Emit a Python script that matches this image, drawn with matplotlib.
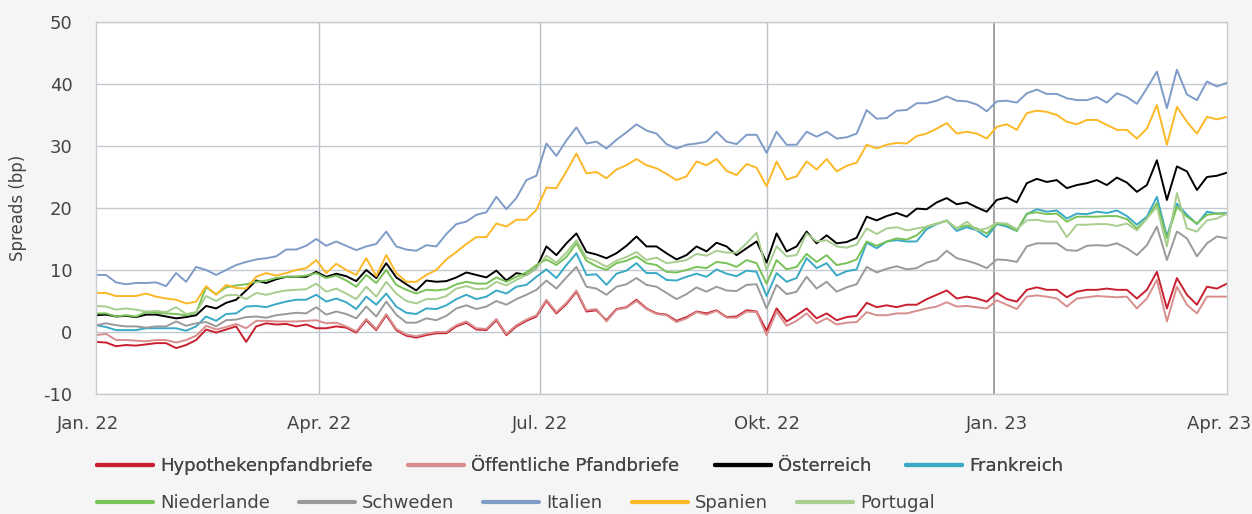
import matplotlib.pyplot as plt
from matplotlib.lines import Line2D
import matplotlib.transforms as mtransforms
import numpy as np

plt.rcParams['font.family'] = ['DejaVu Sans']
plt.rcParams['axes.unicode_minus'] = False

# x axis: sample index (about two trading days per step), quarter labels
tick_labels = ["Jan. 22", "Apr. 22", "Jul. 22", "Okt. 22", "Jan. 23", "Apr. 23"]
tick_pos = [0, 22.3, 44.4, 67.0, 89.7, 113]

hypotheken = [
    -1.6, -1.7, -2.3, -2.1, -2.2, -2.0, -1.8, -1.8, -2.6, -2.1, -1.3, 0.4, -0.1, 0.4, 0.9, -1.6, 0.9, 1.4, 1.2, 1.3, 0.9, 1.2, 0.6, 0.6, 0.9, 0.7,
    -0.1, 1.9, 0.3, 2.7, 0.3, -0.6, -0.9, -0.5, -0.2, -0.2, 0.9, 1.5, 0.4, 0.3, 1.9, -0.5, 0.9, 1.8, 2.5, 5.0, 3.0, 4.5, 6.5, 3.3, 3.5,
    1.9, 3.7, 4.0, 5.2, 3.8, 3.0, 2.8, 1.8, 2.4, 3.3, 3.0, 3.5, 2.4, 2.5, 3.5, 3.3, 0.2, 3.8, 1.7, 2.7, 3.8, 2.2, 3.0, 1.9, 2.4,
    2.6, 4.7, 4.0, 4.3, 4.0, 4.4, 4.4, 5.3, 6.0, 6.7, 5.4, 5.7, 5.4, 4.9, 6.3, 5.3, 4.9, 6.8, 7.2,
    6.8, 6.8, 5.6, 6.5, 6.8, 6.8, 7.0, 6.8, 6.8, 5.4, 6.8, 9.7, 3.8, 8.7, 6.0, 4.4, 7.3, 7.0, 7.8,
]
oeffentliche = [
    -0.5, -0.3, -1.3, -1.3, -1.4, -1.5, -1.3, -1.3, -1.7, -1.3, -0.6, 1.0, 0.4, 0.8, 1.3, 0.6, 1.8, 1.8, 1.7, 1.7, 1.7, 1.8, 1.9, 1.4, 1.5, 0.9,
    0.1, 2.1, 0.5, 2.9, 0.5, -0.4, -0.7, -0.3, 0.0, 0.0, 1.1, 1.7, 0.6, 0.5, 2.1, -0.3, 1.1, 2.0, 2.7, 5.2, 3.2, 4.7, 6.7, 3.5, 3.7,
    1.7, 3.6, 3.9, 5.0, 3.7, 2.9, 2.7, 1.6, 2.2, 3.2, 2.8, 3.4, 2.3, 2.3, 3.3, 3.2, -0.5, 3.3, 1.0, 1.8, 3.0, 1.4, 2.2, 1.2, 1.5,
    1.6, 3.2, 2.7, 2.7, 3.0, 3.0, 3.4, 3.8, 4.1, 4.8, 4.1, 4.2, 4.0, 3.8, 5.1, 4.4, 3.7, 5.7, 5.9,
    5.7, 5.4, 4.1, 5.4, 5.6, 5.8, 5.7, 5.6, 5.7, 3.8, 5.4, 8.4, 1.7, 7.3, 4.4, 3.0, 5.7, 5.7, 5.7,
]
oesterreich = [
    2.7, 2.8, 2.5, 2.6, 2.4, 2.8, 2.8, 2.5, 2.2, 2.4, 2.7, 4.2, 3.8, 4.7, 5.2, 6.7, 8.3, 7.9, 8.5, 8.9, 8.9, 8.9, 9.7, 8.9, 9.4, 9.0,
    8.2, 10.0, 8.7, 11.1, 8.8, 7.7, 6.7, 8.3, 8.1, 8.2, 8.8, 9.6, 9.2, 8.8, 9.9, 8.3, 9.5, 9.2, 10.3, 13.8, 12.4, 14.3, 15.9, 12.9, 12.5,
    11.9, 12.7, 13.9, 15.4, 13.8, 13.8, 12.7, 11.7, 12.4, 13.8, 13.0, 14.4, 13.8, 12.4, 13.5, 14.6, 11.2, 15.9, 13.0, 13.8, 16.2, 14.3, 15.6, 14.3, 14.5,
    15.2, 18.6, 18.0, 18.7, 19.2, 18.6, 19.9, 19.8, 20.9, 21.6, 20.6, 20.9, 20.1, 19.4, 21.3, 21.7, 20.9, 24.0, 24.7,
    24.2, 24.5, 23.2, 23.7, 24.0, 24.5, 23.7, 24.9, 24.1, 22.6, 23.7, 27.7, 21.3, 26.7, 25.9, 22.9, 25.0, 25.2, 25.7,
]
frankreich = [
    1.1, 0.8, 0.3, 0.3, 0.3, 0.6, 0.6, 0.6, 0.6, 0.2, 0.9, 2.5, 1.8, 2.9, 3.0, 4.1, 4.2, 4.0, 4.5, 4.9, 5.2, 5.2, 6.0, 4.9, 5.4, 4.8,
    3.7, 5.7, 4.4, 6.2, 4.1, 3.1, 2.9, 3.8, 3.7, 4.3, 5.3, 6.0, 5.3, 5.7, 6.7, 6.2, 7.3, 7.6, 8.9, 10.1, 8.7, 10.8, 12.7, 9.2, 9.3,
    7.6, 9.4, 9.9, 11.1, 9.5, 9.5, 8.4, 8.3, 8.9, 9.4, 8.9, 10.1, 9.4, 9.0, 9.9, 9.7, 5.8, 9.5, 8.1, 8.7, 11.9, 10.3, 11.1, 9.1, 9.8,
    10.1, 14.4, 13.5, 14.6, 14.8, 14.6, 14.6, 16.6, 17.4, 18.0, 16.3, 16.9, 16.4, 15.3, 17.4, 17.0, 16.3, 19.0, 19.8,
    19.4, 19.6, 18.3, 19.1, 19.0, 19.4, 19.2, 19.6, 18.7, 17.3, 18.6, 21.8, 15.4, 20.7, 18.9, 17.4, 19.4, 19.1, 19.2,
]
niederlande = [
    3.0, 3.0, 2.5, 2.7, 2.5, 3.2, 3.1, 3.0, 2.9, 2.7, 3.1, 7.2, 6.1, 7.2, 7.5, 7.7, 8.1, 8.3, 8.7, 8.9, 8.9, 9.1, 9.5, 8.7, 9.1, 8.3,
    7.3, 9.2, 7.9, 10.0, 7.6, 6.8, 6.2, 6.8, 6.7, 6.9, 7.7, 8.1, 7.8, 7.8, 8.8, 8.1, 8.9, 9.6, 10.8, 11.7, 10.8, 12.1, 14.3, 11.5, 10.6,
    10.0, 11.1, 11.5, 12.2, 11.1, 10.8, 9.7, 9.6, 10.0, 10.5, 10.3, 11.3, 11.1, 10.5, 11.6, 11.1, 7.8, 11.6, 10.1, 10.5, 12.6, 11.3, 12.4, 10.8, 11.1,
    11.7, 14.6, 13.9, 14.6, 15.1, 14.9, 15.6, 17.0, 17.5, 17.9, 16.7, 17.2, 16.7, 15.9, 17.5, 17.3, 16.3, 19.1, 19.3,
    19.0, 19.1, 17.8, 18.6, 18.6, 18.6, 18.7, 18.7, 18.2, 16.7, 18.3, 20.8, 15.1, 20.2, 18.6, 17.5, 18.9, 19.1, 19.0,
]
schweden = [
    1.1, 1.4, 1.1, 0.9, 0.9, 0.7, 0.9, 0.9, 1.7, 1.0, 1.4, 1.6, 0.9, 1.9, 2.0, 2.4, 2.5, 2.3, 2.7, 2.9, 3.1, 3.0, 4.0, 2.8, 3.3, 2.9,
    2.2, 4.1, 2.5, 4.9, 2.8, 1.5, 1.5, 2.2, 1.9, 2.6, 3.8, 4.3, 3.7, 4.1, 5.0, 4.4, 5.3, 6.0, 6.8, 8.3, 7.0, 8.8, 10.5, 7.3, 7.0,
    6.0, 7.3, 7.7, 8.7, 7.6, 7.3, 6.3, 5.3, 6.1, 7.2, 6.5, 7.3, 6.7, 6.6, 7.6, 7.7, 3.8, 7.6, 6.1, 6.5, 8.9, 7.0, 8.1, 6.5, 7.2,
    7.7, 10.5, 9.6, 10.2, 10.6, 10.1, 10.3, 11.2, 11.6, 13.1, 11.9, 11.5, 11.0, 10.3, 11.7, 11.6, 11.3, 13.8, 14.3,
    14.3, 14.3, 13.2, 13.1, 13.9, 14.0, 13.9, 14.3, 13.5, 12.4, 14.0, 17.0, 11.6, 16.2, 15.1, 12.2, 14.3, 15.4, 15.1,
]
italien = [
    9.2, 9.2, 8.0, 7.7, 7.9, 7.9, 8.0, 7.4, 9.5, 8.1, 10.5, 10.0, 9.2, 10.0, 10.8, 11.3, 11.7, 11.9, 12.2, 13.3, 13.3, 13.9, 15.0, 13.9, 14.6, 13.9,
    13.2, 13.8, 14.2, 16.2, 13.8, 13.3, 13.1, 14.0, 13.8, 15.8, 17.4, 17.8, 18.9, 19.3, 21.8, 19.8, 21.6, 24.5, 25.2, 30.4, 28.4, 30.9, 33.0, 30.4, 30.7,
    29.6, 31.0, 32.2, 33.5, 32.5, 32.0, 30.3, 29.6, 30.2, 30.4, 30.7, 32.3, 30.7, 30.3, 31.8, 31.8, 28.9, 32.3, 30.2, 30.2, 32.3, 31.5, 32.3, 31.2, 31.4,
    32.0, 35.8, 34.4, 34.5, 35.7, 35.8, 36.9, 36.9, 37.3, 38.0, 37.3, 37.2, 36.7, 35.6, 37.2, 37.3, 37.0, 38.5, 39.1,
    38.4, 38.4, 37.7, 37.4, 37.4, 37.9, 37.0, 38.5, 37.9, 36.8, 39.3, 42.0, 36.1, 42.3, 38.3, 37.4, 40.4, 39.6, 40.2,
]
spanien = [
    6.3, 6.3, 5.8, 5.8, 5.8, 6.2, 5.7, 5.4, 5.2, 4.6, 4.9, 7.4, 6.0, 7.6, 7.1, 7.0, 8.9, 9.5, 9.1, 9.5, 10.0, 10.3, 11.6, 9.5, 11.0, 10.0,
    9.2, 11.9, 9.0, 12.4, 9.5, 8.1, 8.1, 9.2, 10.0, 11.7, 12.9, 14.2, 15.3, 15.3, 17.5, 17.0, 18.1, 18.1, 19.7, 23.3, 23.2, 25.9, 28.8, 25.6, 25.8,
    24.8, 26.2, 26.9, 27.9, 26.9, 26.4, 25.5, 24.5, 25.1, 27.5, 26.9, 27.9, 26.0, 25.3, 27.1, 26.5, 23.5, 27.5, 24.6, 25.1, 27.5, 26.2, 27.9, 25.9, 26.8,
    27.3, 30.2, 29.6, 30.2, 30.5, 30.4, 31.6, 32.0, 32.8, 33.7, 32.0, 32.3, 32.0, 31.2, 33.1, 33.5, 32.6, 35.3, 35.7,
    35.5, 35.0, 33.9, 33.5, 34.2, 34.2, 33.4, 32.6, 32.6, 31.2, 32.8, 36.6, 30.2, 36.3, 33.9, 32.0, 34.7, 34.3, 34.7,
]
portugal = [
    4.2, 4.1, 3.6, 3.8, 3.6, 3.3, 3.4, 3.2, 4.0, 2.9, 3.2, 5.8, 5.0, 5.9, 6.0, 5.3, 6.3, 6.0, 6.4, 6.7, 6.8, 6.9, 7.8, 6.5, 7.0, 6.2,
    5.3, 7.3, 5.7, 8.1, 6.2, 5.0, 4.6, 5.3, 5.3, 5.8, 7.0, 7.4, 6.9, 7.0, 8.1, 7.5, 8.4, 9.2, 10.3, 12.3, 11.2, 12.8, 14.8, 12.0, 11.4,
    10.5, 11.5, 12.1, 12.9, 11.6, 12.0, 11.1, 11.3, 11.6, 12.6, 12.3, 13.1, 12.8, 12.8, 14.3, 16.0, 10.0, 13.8, 12.2, 12.4, 15.9, 14.6, 14.8, 13.8, 13.6,
    14.1, 16.7, 15.8, 16.7, 16.9, 16.4, 16.7, 17.0, 17.4, 18.0, 16.7, 17.8, 16.4, 16.7, 17.6, 17.5, 16.6, 18.0, 18.1,
    17.8, 17.8, 15.3, 17.3, 17.3, 17.4, 17.4, 17.1, 17.5, 16.4, 18.3, 20.2, 13.8, 22.4, 16.7, 16.2, 18.0, 18.3, 19.1,
]

series = [
    ("Hypothekenpfandbriefe", hypotheken, "#c8202f"),
    ("Öffentliche Pfandbriefe", oeffentliche, "#d98e8e"),
    ("Österreich", oesterreich, "#000000"),
    ("Frankreich", frankreich, "#3aa9c6"),
    ("Niederlande", niederlande, "#78c257"),
    ("Schweden", schweden, "#9a9a9a"),
    ("Italien", italien, "#7f9cc8"),
    ("Spanien", spanien, "#fcb827"),
    ("Portugal", portugal, "#a8cd8e"),
]

text_col = "#444444"
fig = plt.figure(figsize=(12.52, 5.14), dpi=100, facecolor="#f4f5f4")
ax = fig.add_axes([0.0767, 0.2335, 0.9033, 0.7237])
ax.set_facecolor("white")

x = np.arange(len(italien))
for name, vals, col in series:
    ax.plot(x, vals, color=col, lw=1.4, label=name, solid_joinstyle="round")

ax.set_xlim(0, 113)
ax.set_ylim(-10, 50)
ax.set_yticks(np.arange(-10, 51, 10))
ax.set_xticks(tick_pos)
ax.set_xticklabels(tick_labels)
ax.tick_params(axis="both", length=0, labelsize=13, colors=text_col)
ax.tick_params(axis="x", pad=15)
ax.tick_params(axis="y", pad=17)
# edge labels sit a little to the left in the original
xl = ax.get_xticklabels()
for lab, dx in [(xl[0], -8), (xl[-1], -8), (xl[4], 3)]:
    lab.set_transform(lab.get_transform() + mtransforms.ScaledTranslation(dx / 100, 0, fig.dpi_scale_trans))

ax.grid(axis="y", color="#c3c9d0", lw=1.0)
for p in tick_pos[1:-1]:
    c = "#9a9a9a" if p == 89.7 else "#bcc0c4"
    ax.axvline(p, color=c, lw=1.3 if p == 89.7 else 1.0, zorder=0.5)
ax.set_axisbelow(True)
for s in ax.spines.values():
    s.set_color("#c8ccd0")
    s.set_linewidth(1.0)
ax.set_ylabel("Spreads (bp)", fontsize=12, color=text_col, labelpad=12)

handles = [Line2D([0], [0], color=c, lw=3, solid_capstyle="round") for _, _, c in series]
labels = [n for n, _, _ in series]
leg1 = fig.legend(handles[:4], labels[:4], loc="center left", bbox_to_anchor=(0.0775, 0.093),
                  ncol=4, frameon=False, fontsize=13, handlelength=3.1, handletextpad=0.4,
                  columnspacing=1.95, borderpad=0, borderaxespad=0, labelcolor=text_col)
leg2 = fig.legend(handles[4:], labels[4:], loc="center left", bbox_to_anchor=(0.0775, 0.021),
                  ncol=5, frameon=False, fontsize=13, handlelength=3.1, handletextpad=0.4,
                  columnspacing=1.6, borderpad=0, borderaxespad=0, labelcolor=text_col)
fig.add_artist(leg1)

plt.savefig("out.png", dpi=100, facecolor=fig.get_facecolor())
